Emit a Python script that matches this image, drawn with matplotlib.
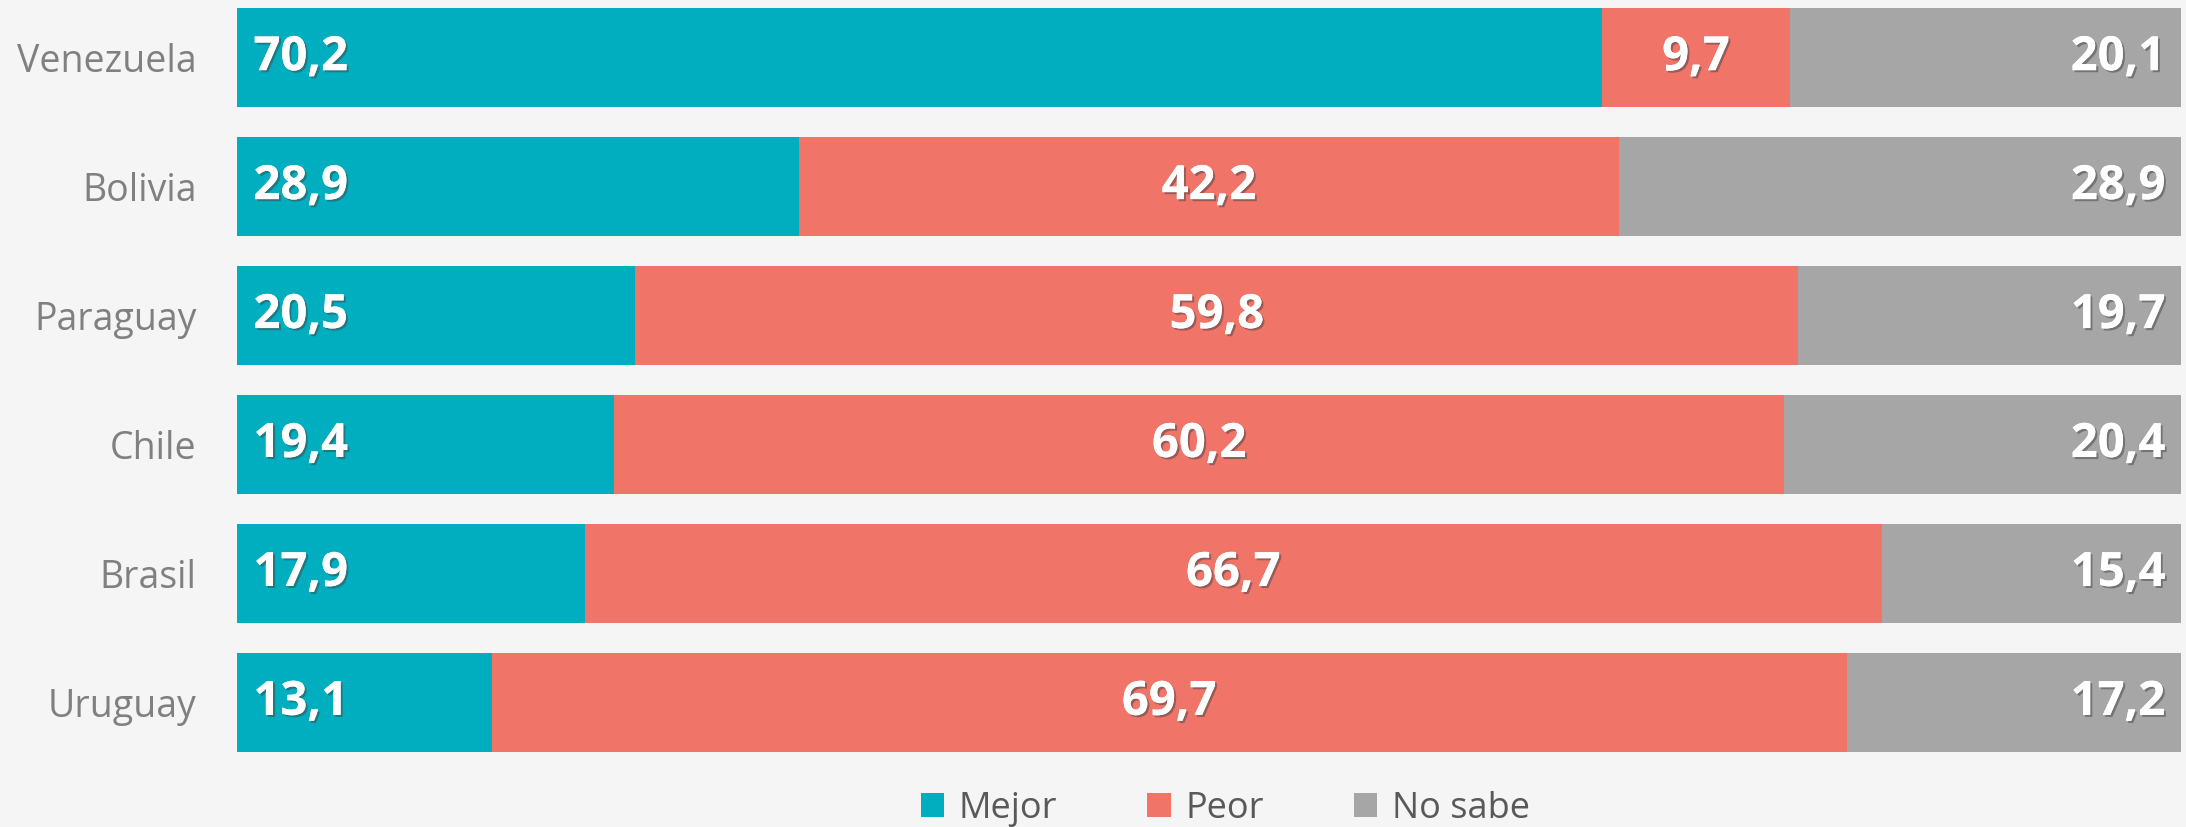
import numpy as np
import matplotlib.pyplot as plt
import matplotlib.patheffects as pe

paises = ['Venezuela', 'Bolivia', 'Paraguay', 'Chile', 'Brasil', 'Uruguay']
mejor = [70.2, 28.9, 20.5, 19.4, 17.9, 13.1]
peor = [9.7, 42.2, 59.8, 60.2, 66.7, 69.7]
no_sabe = [20.1, 28.9, 19.7, 20.4, 15.4, 17.2]

c_mejor = '#00AEBF'
c_peor = '#F07468'
c_nosabe = '#A6A6A6'
bg = '#F5F5F5'

plt.rcParams['font.family'] = ['Open Sans', 'DejaVu Sans']

fig = plt.figure(figsize=(21.86, 8.27), dpi=100, facecolor=bg)
ax = fig.add_axes([0.1084, 0.0907, 0.8893, 0.8996], facecolor=bg)

y = np.arange(len(paises))
h = 0.77
m = np.array(mejor)
p = np.array(peor)
n = np.array(no_sabe)

ax.barh(y, m, height=h, color=c_mejor, label='Mejor')
ax.barh(y, p, left=m, height=h, color=c_peor, label='Peor')
ax.barh(y, n, left=m + p, height=h, color=c_nosabe, label='No sabe')

fmt = lambda v: f'{v:.1f}'.replace('.', ',')
shadow = [pe.withSimplePatchShadow(offset=(1.5, -1.5), shadow_rgbFace='#444444', alpha=0.5), pe.Normal()]
tk = dict(color='white', fontsize=34, fontweight='bold', va='center', path_effects=shadow)
for i in range(len(paises)):
    ax.text(0.85, y[i], fmt(m[i]), ha='left', **tk)
    ax.text(m[i] + p[i] / 2, y[i], fmt(p[i]), ha='center', **tk)
    ax.text(m[i] + p[i] + n[i] - 0.8, y[i], fmt(n[i]), ha='right', **tk)

ax.set_xlim(0, 100)
ax.set_ylim(len(paises) - 1 + h / 2, -h / 2)
ax.set_yticks(y)
ax.set_yticklabels(paises, fontsize=27, color='#808080')
ax.tick_params(axis='y', length=0, pad=29)
ax.set_xticks([])
for s in ax.spines.values():
    s.set_visible(False)

leg = fig.legend(loc='center', bbox_to_anchor=(0.5605, 0.022), ncol=3, frameon=False,
                 fontsize=26, handlelength=0.65, handleheight=0.65, handletextpad=0.4,
                 columnspacing=2.5)
for t in leg.get_texts():
    t.set_color('#595959')

fig.savefig('out.png', dpi=100, facecolor=bg)
